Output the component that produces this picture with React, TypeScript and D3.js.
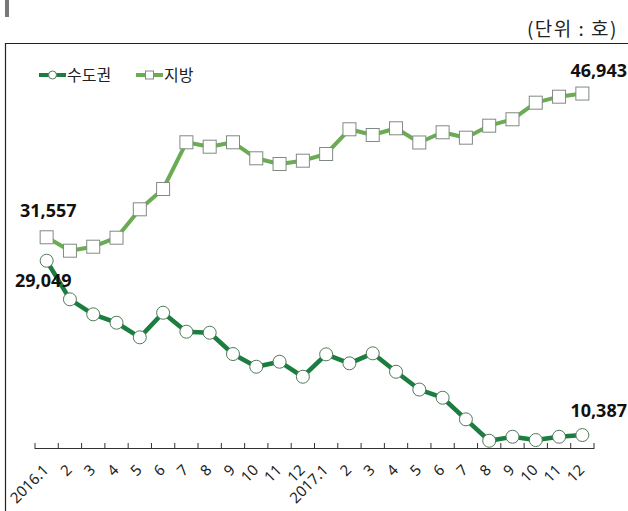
import React from "react";
import * as d3 from "d3";

const categories = [
  "2016.1", "2", "3", "4", "5", "6", "7", "8", "9", "10", "11", "12",
  "2017.1", "2", "3", "4", "5", "6", "7", "8", "9", "10", "11", "12",
];
const capital = [
  29049, 24916, 23310, 22411, 20847, 23481, 21447, 21340, 19059, 17700, 18235, 16629,
  19027, 18064, 19134, 17164, 15258, 14380, 12068, 9776, 10205, 9851, 10205, 10387,
];
const regional = [
  31557, 30120, 30548, 31512, 34552, 36726, 41726, 41255, 41726, 40013, 39403, 39756,
  40473, 43118, 42508, 43225, 41705, 42797, 42219, 43503, 44189, 45966, 46608, 46943,
];
const seriesNames = ["수도권", "지방"];
const unitLabel = "(단위 : 호)";
const yDomain = [9000, 50000];

const W = 628;
const H = 511;
const C_CAP = "#1b7d3f";
const C_REG = "#6aab54";

export default function App() {
  const idx = categories.map((_, i) => String(i));
  const x = d3.scaleBand().domain(idx).range([35, 594]);
  const y = d3.scaleLinear().domain(yDomain).range([448, 65]);
  const cx = (i: number) => (x(String(i)) as number) + x.bandwidth() / 2;
  const line = d3
    .line<number>()
    .x((_, i) => cx(i))
    .y((d) => y(d));
  const ticks = d3.range(categories.length + 1).map((i) => 35 + i * x.bandwidth());
  const numFont = "'Noto Sans', 'Noto Sans CJK KR', sans-serif";
  const krFont = "'Noto Sans CJK KR', 'Noto Sans', sans-serif";
  const fmt = d3.format(",");
  const last = categories.length - 1;

  return (
    <svg
      width={W}
      height={H}
      style={{ position: "absolute", left: 0, top: 0, display: "block", background: "#fff" }}
    >
      <rect x={5} y={0} width={4} height={17} fill="#777" />
      <text x={618} y={36} textAnchor="end" fontFamily={krFont} fontSize={19} letterSpacing={1.5} fill="#222">
        {unitLabel}
      </text>
      <path d={`M5.5,${H} V43.5 H${W}`} fill="none" stroke="#222" strokeWidth={1.2} />

      {/* legend */}
      <g>
        <line x1={39} x2={66} y1={75} y2={75} stroke={C_CAP} strokeWidth={4} />
        <circle cx={52.5} cy={75} r={4} fill="#fff" stroke="#5a7a60" strokeWidth={1} />
        <text x={67} y={81} fontFamily={krFont} fontSize={16} fill="#222">
          {seriesNames[0]}
        </text>
        <line x1={136} x2={163} y1={75} y2={75} stroke={C_REG} strokeWidth={4} />
        <rect x={145.5} y={71} width={8} height={8} fill="#fff" stroke="#7f8a7f" strokeWidth={1} />
        <text x={164} y={81} fontFamily={krFont} fontSize={16} fill="#222">
          {seriesNames[1]}
        </text>
      </g>

      {/* axis */}
      <line x1={35} x2={594} y1={448.5} y2={448.5} stroke="#333" strokeWidth={1.2} />
      {ticks.map((t, i) => (
        <line key={i} x1={t} x2={t} y1={443} y2={449} stroke="#333" strokeWidth={1} />
      ))}
      {categories.map((c, i) => (
        <text
          key={i}
          transform={`translate(${cx(i) + 3},${471}) rotate(-45)`}
          textAnchor="end"
          fontFamily={numFont}
          fontSize={15}
          fill="#222"
        >
          {c}
        </text>
      ))}

      {/* lines */}
      <path d={line(regional) as string} fill="none" stroke={C_REG} strokeWidth={4} strokeLinejoin="round" />
      <path d={line(capital) as string} fill="none" stroke={C_CAP} strokeWidth={4.5} strokeLinejoin="round" />
      {regional.map((v, i) => (
        <rect
          key={i}
          x={cx(i) - 6.5}
          y={y(v) - 6.5}
          width={13}
          height={13}
          fill="#fff"
          stroke="#808a80"
          strokeWidth={1}
        />
      ))}
      {capital.map((v, i) => (
        <circle key={i} cx={cx(i)} cy={y(v)} r={6.5} fill="#fff" stroke="#4f7a58" strokeWidth={1} />
      ))}

      {/* data labels */}
      <text x={20} y={217} fontFamily={numFont} fontWeight="bold" fontSize={18} fill="#111">
        {fmt(regional[0])}
      </text>
      <text x={15} y={287} fontFamily={numFont} fontWeight="bold" fontSize={18} fill="#111">
        {fmt(capital[0])}
      </text>
      <text x={627} y={77} textAnchor="end" fontFamily={numFont} fontWeight="bold" fontSize={18} fill="#111">
        {fmt(regional[last])}
      </text>
      <text x={627} y={417} textAnchor="end" fontFamily={numFont} fontWeight="bold" fontSize={18} fill="#111">
        {fmt(capital[last])}
      </text>
    </svg>
  );
}
